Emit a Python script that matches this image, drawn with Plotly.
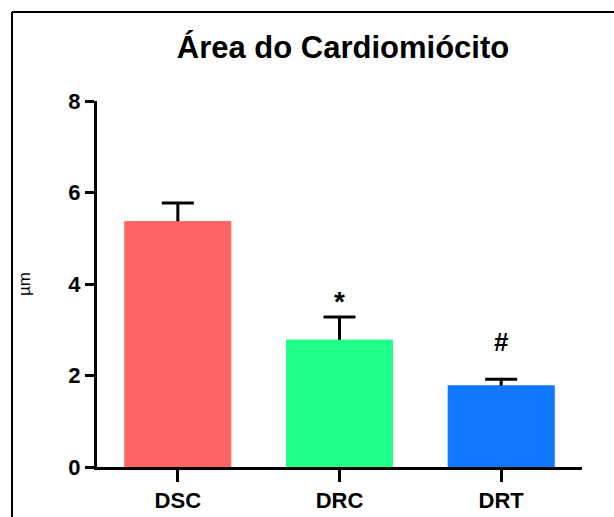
import plotly.graph_objects as go

categories = ["DSC", "DRC", "DRT"]
means = [5.37, 2.78, 1.78]
sem = [0.40, 0.50, 0.14]
colors = ["#FF6464", "#22FF88", "#1177FF"]
marks = ["", "*", "#"]
y_ticks = [0, 2, 4, 6, 8]

W, H = 614, 517
L, R, T, B = 97, 32, 101, 50
pw, ph = W - L - R, H - T - B
mark_shift = [0, -2, 20]
mark_size = [26, 28, 26]

fig = go.Figure()
# error bars drawn first (symmetric), then bars drawn over them so only the upper half shows
fig.add_trace(go.Bar(
    x=categories, y=means, width=0.66,
    marker=dict(color=colors, line=dict(width=0)),
    error_y=dict(type="data", array=sem, color="black", thickness=3, width=16),
    hoverinfo="skip",
))
fig.add_trace(go.Bar(
    x=categories, y=means, width=0.66,
    marker=dict(color=colors, line=dict(width=0)),
))

for c, m, s, t, sh, fs in zip(categories, means, sem, marks, mark_shift, mark_size):
    if t:
        fig.add_annotation(x=c, y=m + s, text=t, showarrow=False,
                           yanchor="bottom", yshift=sh,
                           font=dict(family="Liberation Sans", size=fs,
                                     color="black", weight="bold"))

def px2x(px):
    return (px - L) / pw

def py2y(py):
    return (H - B - py) / ph

fig.add_shape(type="line", xref="paper", yref="paper",
              x0=px2x(12), x1=px2x(12), y0=py2y(12), y1=py2y(H + 5),
              line=dict(color="black", width=2))
fig.add_shape(type="line", xref="paper", yref="paper",
              x0=px2x(12), x1=px2x(W + 5), y0=py2y(12), y1=py2y(12),
              line=dict(color="black", width=2))

fig.update_layout(
    width=W, height=H,
    margin=dict(l=L, r=R, t=T, b=B, autoexpand=False),
    paper_bgcolor="white", plot_bgcolor="white",
    showlegend=False, barmode="overlay",
    title=dict(text="Área do Cardiomiócito", x=343 / W, xanchor="center",
               y=1 - 47 / H, yanchor="middle",
               font=dict(family="Liberation Sans", size=31, color="black", weight="bold")),
    font=dict(family="Liberation Sans", color="black"),
    xaxis=dict(range=[-0.5, 2.5], showline=True, linewidth=3, linecolor="black",
               ticks="outside", ticklen=12, tickwidth=3, tickcolor="black",
               tickfont=dict(size=22, weight="bold"), showgrid=False, zeroline=False,
               automargin=False),
    yaxis=dict(range=[0, 8], tickvals=y_ticks, showline=True, linewidth=3,
               linecolor="black", ticks="outside", ticklen=9, tickwidth=3,
               tickcolor="black", tickfont=dict(size=22, weight="bold"),
               showgrid=False, zeroline=False, automargin=False,
               title=dict(text="µm", font=dict(size=17), standoff=34)),
)

fig.write_html("out.html")
